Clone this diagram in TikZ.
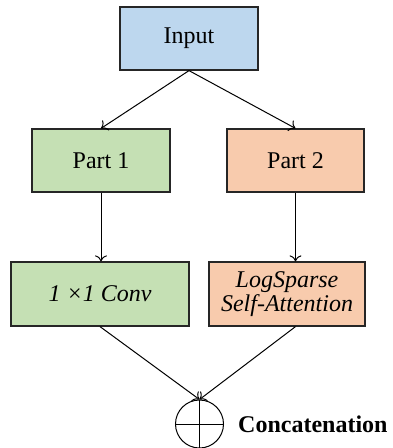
\documentclass[tikz,border=0pt]{standalone}
\usepackage{fontspec}
\setmainfont{Liberation Serif}
\usetikzlibrary{arrows.meta}
\definecolor{boxblue}{HTML}{BDD7EE}
\definecolor{boxgreen}{HTML}{C5E0B4}
\definecolor{boxorange}{HTML}{F8CBAD}
\definecolor{edge}{HTML}{262626}
\tikzset{
  blk/.style={draw=edge, line width=1.2pt, rectangle, inner sep=0pt, font=\fontsize{24}{25}\selectfont, align=center},
  conn/.style={draw=black, line width=1pt, -{To[length=6pt,width=12pt]}},
}
\begin{document}
\begin{tikzpicture}[x=1pt,y=-1pt]
\useasboundingbox (0,0) rectangle (393,448);
\node[blk, fill=boxblue, minimum width=138pt, minimum height=63pt] (in) at (189,38.5) {Input};
\node[blk, fill=boxgreen, minimum width=138pt, minimum height=63pt] (p1) at (101,160.5) {Part 1};
\node[blk, fill=boxorange, minimum width=137pt, minimum height=63pt] (p2) at (295.5,160.5) {Part 2};
\node[blk, fill=boxgreen, minimum width=178pt, minimum height=64pt] (cv) at (100,294) {\itshape 1 ×1 Conv};
\node[blk, fill=boxorange, minimum width=156pt, minimum height=64pt] (ls) at (287,294) {\itshape LogSparse\\[-1pt]\itshape Self-Attention};
\node[draw=black, line width=1pt, circle, minimum size=48pt, inner sep=0pt] (cc) at (199.5,424) {};
\draw[line width=1pt] (cc.north) -- (cc.south) (cc.west) -- (cc.east);
\node[anchor=west, font=\fontsize{24}{25}\selectfont\bfseries, inner sep=0pt] (lab) at ([xshift=14pt]cc.east) {Concatenation};
\coordinate (lsin) at (p2.south |- ls.north);
\coordinate (lsout) at (p2.south |- ls.south);
\draw[conn] (in.south) -- (p1.north);
\draw[conn] (in.south) -- (p2.north);
\draw[conn] (p1.south) -- (p1.south |- cv.north);
\draw[conn] (p2.south) -- (lsin);
\draw[conn] (cv.south) -- (cc.north);
\draw[conn] (lsout) -- (cc.north);
\end{tikzpicture}
\end{document}
